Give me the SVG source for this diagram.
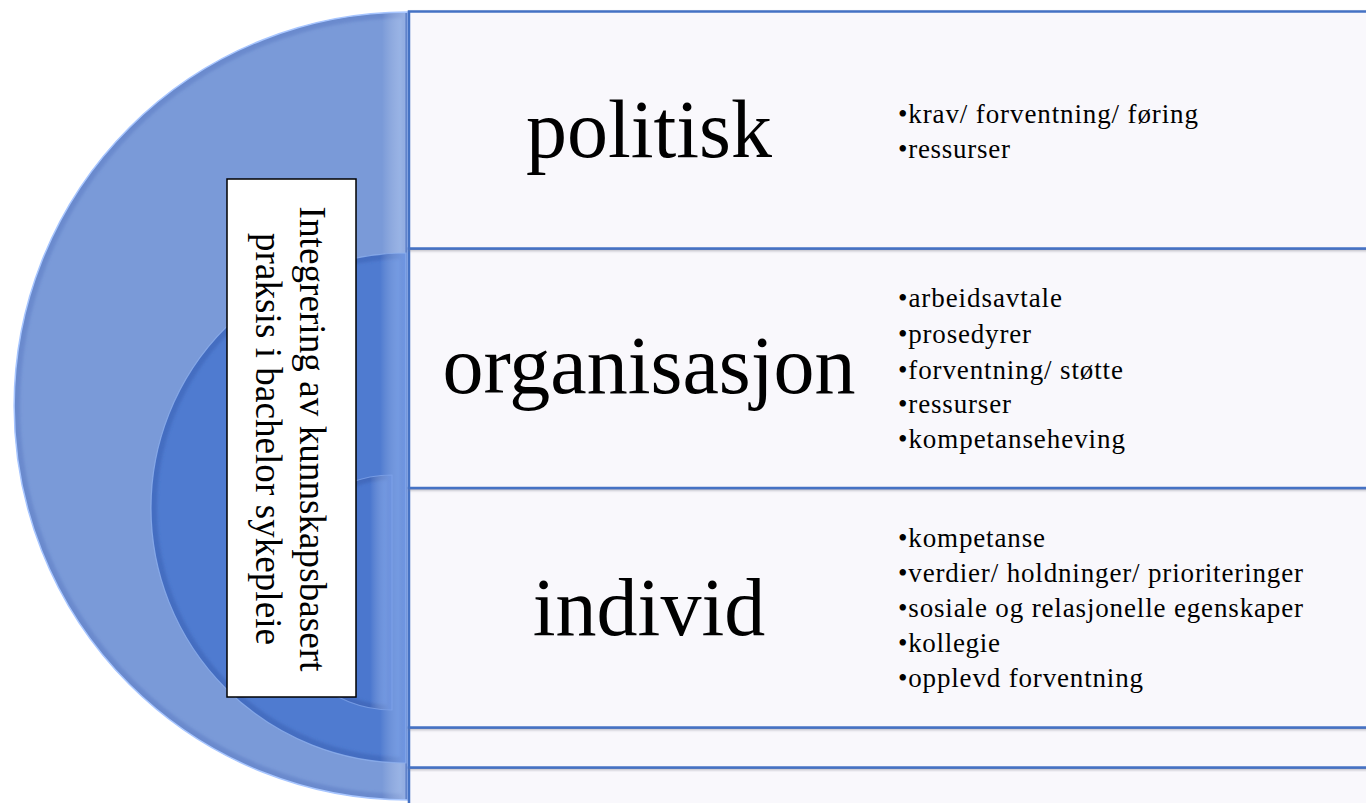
<svg xmlns="http://www.w3.org/2000/svg" xmlns:xlink="http://www.w3.org/1999/xlink" width="1366" height="803" viewBox="0 0 1366 803">
  <style>
    .serif { font-family: "Liberation Serif", "Times New Roman", serif; fill: #000; }
    .title { font-size: 82px; text-anchor: middle; }
    .bullet { font-size: 27px; }
    .vlabel { font-size: 37px; text-anchor: middle; }
    .row { fill: #F9F8FC; stroke: #4472C4; stroke-width: 2.5; }
    .labelbox { fill: #FFFFFF; stroke: #000000; stroke-width: 1.5; }
  </style>
  <defs>
    <!-- half-disc outlines, flat side against the table -->
    <path id="p-outer" d="M408,12 A394,394 0 0 0 408,800 Z"/>
    <path id="p-mid" d="M406,253 A255,255 0 0 0 406,763 Z"/>
    <path id="p-inner" d="M392,475 A117.5,117.5 0 0 0 392,710 Z"/>
    <clipPath id="c-outer"><use xlink:href="#p-outer"/></clipPath>
    <clipPath id="c-mid"><use xlink:href="#p-mid"/></clipPath>
    <clipPath id="c-inner"><use xlink:href="#p-inner"/></clipPath>
    <!-- lighter bevel toward the straight edge -->
    <linearGradient id="g-strip" x1="0" y1="0" x2="1" y2="0">
      <stop offset="0" stop-color="#ffffff" stop-opacity="0"/>
      <stop offset="1" stop-color="#c8dcff" stop-opacity="0.45"/>
    </linearGradient>
    <linearGradient id="g-strip2" x1="0" y1="0" x2="1" y2="0">
      <stop offset="0" stop-color="#ffffff" stop-opacity="0"/>
      <stop offset="1" stop-color="#8fb6ff" stop-opacity="0.55"/>
    </linearGradient>
    <filter id="f-soft" x="-5%" y="-5%" width="110%" height="110%">
      <feGaussianBlur stdDeviation="1.6"/>
    </filter>
    <filter id="f-shadow" x="-2%" y="-5%" width="104%" height="115%">
      <feDropShadow dx="1" dy="1.5" stdDeviation="0.8" flood-color="#7a7a86" flood-opacity="0.45"/>
    </filter>
  </defs>

  <rect width="1366" height="803" fill="#FFFFFF"/>

  <!-- outer half-disc -->
  <g id="ring-outer">
    <use xlink:href="#p-outer" fill="#7A9AD8"/>
    <g clip-path="url(#c-outer)">
      <use xlink:href="#p-outer" fill="none" stroke="#5878c0" stroke-opacity="0.45" stroke-width="12" filter="url(#f-soft)"/>
      <rect x="382" y="0" width="24" height="803" fill="url(#g-strip)"/>
      <rect x="405" y="0" width="3" height="803" fill="#5c7fc8" fill-opacity="0.6"/>
    </g>
    <use xlink:href="#p-outer" fill="none" stroke="#a8c6ff" stroke-width="1.5"/>
  </g>

  <!-- middle half-disc -->
  <g id="ring-middle">
    <use xlink:href="#p-mid" fill="#4F7BD0"/>
    <g clip-path="url(#c-mid)">
      <use xlink:href="#p-mid" fill="none" stroke="#3d63b4" stroke-opacity="0.55" stroke-width="12" filter="url(#f-soft)"/>
      <rect x="380" y="240" width="26" height="540" fill="url(#g-strip2)"/>
    </g>
    <use xlink:href="#p-mid" fill="none" stroke="#8fb0ee" stroke-opacity="0.8" stroke-width="1.2"/>
  </g>

  <!-- inner half-disc -->
  <g id="ring-inner">
    <use xlink:href="#p-inner" fill="#4B77CE"/>
    <g clip-path="url(#c-inner)">
      <use xlink:href="#p-inner" fill="none" stroke="#3a60b0" stroke-opacity="0.6" stroke-width="10" filter="url(#f-soft)"/>
      <rect x="370" y="470" width="22" height="245" fill="url(#g-strip2)"/>
    </g>
    <use xlink:href="#p-inner" fill="none" stroke="#7ea3e8" stroke-opacity="0.8" stroke-width="1.2"/>
  </g>

  <!-- vertical caption -->
  <g id="label">
    <rect class="labelbox" x="227" y="179" width="129" height="518"/>
    <text class="serif vlabel" transform="translate(300,439) rotate(90)" textLength="465" lengthAdjust="spacing">Integrering av kunnskapsbasert</text>
    <text class="serif vlabel" transform="translate(256,439) rotate(90)" textLength="412" lengthAdjust="spacing">praksis i bachelor sykepleie</text>
  </g>

  <!-- table rows, drawn bottom-up so each border shadow falls on the row below -->
  <g id="row-blank-2">
    <rect class="row" x="409" y="767.5" width="980" height="50" filter="url(#f-shadow)"/>
  </g>
  <g id="row-blank-1">
    <rect class="row" x="409" y="727.5" width="980" height="40" filter="url(#f-shadow)"/>
  </g>
  <g id="row-individ">
    <rect class="row" x="409" y="488" width="980" height="239.5" filter="url(#f-shadow)"/>
    <text class="serif title" x="649" y="635">individ</text>
    <text class="serif bullet" x="898" y="547" textLength="147" lengthAdjust="spacing">•kompetanse</text>
    <text class="serif bullet" x="898" y="582" textLength="405" lengthAdjust="spacing">•verdier/ holdninger/ prioriteringer</text>
    <text class="serif bullet" x="898" y="617" textLength="405" lengthAdjust="spacing">•sosiale og relasjonelle egenskaper</text>
    <text class="serif bullet" x="898" y="652" textLength="102" lengthAdjust="spacing">•kollegie</text>
    <text class="serif bullet" x="898" y="687" textLength="245" lengthAdjust="spacing">•opplevd forventning</text>
  </g>
  <g id="row-organisasjon">
    <rect class="row" x="409" y="248.5" width="980" height="239.5" filter="url(#f-shadow)"/>
    <text class="serif title" x="649" y="393">organisasjon</text>
    <text class="serif bullet" x="898" y="307" textLength="164" lengthAdjust="spacing">•arbeidsavtale</text>
    <text class="serif bullet" x="898" y="343" textLength="133" lengthAdjust="spacing">•prosedyrer</text>
    <text class="serif bullet" x="898" y="379" textLength="225" lengthAdjust="spacing">•forventning/ støtte</text>
    <text class="serif bullet" x="898" y="413" textLength="113" lengthAdjust="spacing">•ressurser</text>
    <text class="serif bullet" x="898" y="448" textLength="227" lengthAdjust="spacing">•kompetanseheving</text>
  </g>
  <g id="row-politisk">
    <rect class="row" x="409" y="11.5" width="980" height="237" filter="url(#f-shadow)"/>
    <text class="serif title" x="649" y="157">politisk</text>
    <text class="serif bullet" x="898" y="123" textLength="300" lengthAdjust="spacing">•krav/ forventning/ føring</text>
    <text class="serif bullet" x="898" y="158" textLength="112" lengthAdjust="spacing">•ressurser</text>
  </g>
</svg>
